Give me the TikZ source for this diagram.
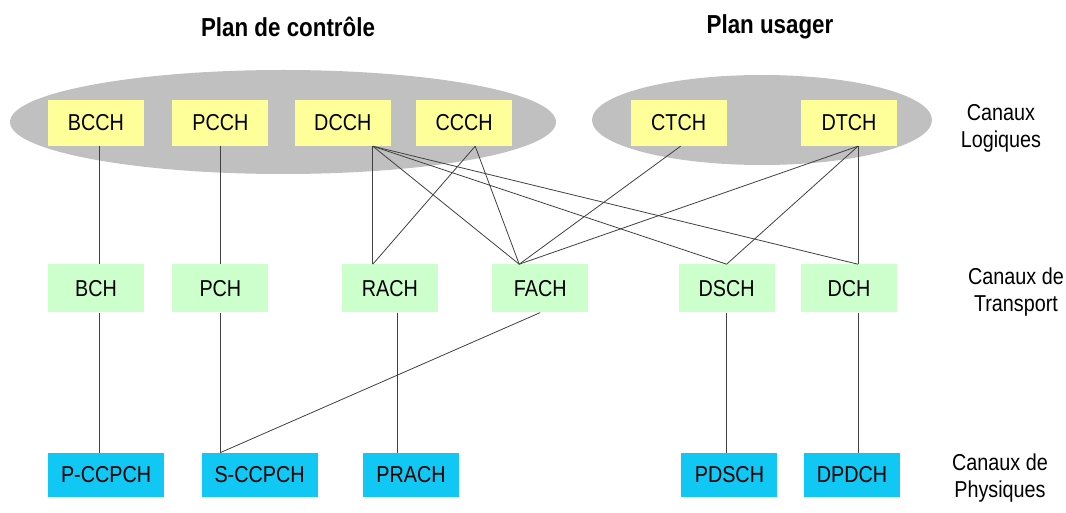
\documentclass[tikz,border=0pt]{standalone}
\usepackage{fontspec}
\setmainfont{Liberation Sans}[FakeStretch=0.86]
\usepackage{xcolor}
\usetikzlibrary{positioning}
\definecolor{logyellow}{HTML}{FFFF99}
\definecolor{trgreen}{HTML}{CCFFCC}
\definecolor{phyblue}{HTML}{11C8F4}
\definecolor{plangray}{HTML}{C0C0C0}
\definecolor{linkgray}{HTML}{404040}
\tikzstyle{logique} = [rectangle, fill=logyellow, minimum width=96pt, minimum height=46pt, font=\fontsize{23}{27}\selectfont]
\tikzstyle{transport} = [rectangle, fill=trgreen, minimum width=96pt, minimum height=48pt, font=\fontsize{23}{27}\selectfont]
\tikzstyle{physique} = [rectangle, fill=phyblue, inner xsep=13pt, minimum width=96pt, minimum height=44pt, font=\fontsize{23}{27}\selectfont]
\tikzstyle{canal} = [align=center, font=\fontsize{23}{27}\selectfont]
\tikzstyle{plan} = [font=\fontsize{26}{30}\selectfont\bfseries]
\tikzstyle{link} = [draw=linkgray, line width=0.8pt]

\begin{document}
\begin{tikzpicture}[x=1pt, y=-1pt]

\useasboundingbox (0,0) rectangle (1066,513);

% the two planes
\fill[plangray] (283,122) ellipse [x radius=273pt, y radius=52pt];
\fill[plangray] (762,120) ellipse [x radius=170pt, y radius=45pt];

\node[plan] (ctrl) at (288,27) {Plan de contrôle};
\node[plan] (usager) at (770,27) {Plan usager};

% logical channels
\node[logique] (BCCH) at (96,123) {BCCH};
\node[logique, right=28pt of BCCH] (PCCH) {PCCH};
\node[logique, right=26pt of PCCH] (DCCH) {DCCH};
\node[logique, right=25pt of DCCH] (CCCH) {CCCH};
\node[logique, right=118pt of CCCH] (CTCH) {CTCH};
\node[logique, right=74pt of CTCH] (DTCH) {DTCH};

% transport channels
\node[transport, below=118pt of BCCH] (BCH) {BCH};
\node[transport, right=28pt of BCH] (PCH) {PCH};
\node[transport, right=73pt of PCH] (RACH) {RACH};
\node[transport, right=54pt of RACH] (FACH) {FACH};
\node[transport, right=90pt of FACH] (DSCH) {DSCH};
\node[transport, right=26pt of DSCH] (DCH) {DCH};

% physical channels
\node[physique, anchor=north west] (PCCPCH) at ([yshift=-140pt]BCH.south west) {P-CCPCH};
\node[physique, right=37pt of PCCPCH] (SCCPCH) {S-CCPCH};
\node[physique, right=45pt of SCCPCH] (PRACH) {PRACH};
\node[physique, right=222pt of PRACH] (PDSCH) {PDSCH};
\node[physique, right=26pt of PDSCH] (DPDCH) {DPDCH};

\node[canal] (logiques) at (1001,128) {Canaux\\Logiques};
\node[canal] (transp) at (1016,292) {Canaux de\\Transport};
\node[canal] (physiq) at (1000,478) {Canaux de\\Physiques};

\coordinate (bcch) at ([xshift=3pt]BCCH.south);
\coordinate (dcch) at ([xshift=30pt]DCCH.south);
\coordinate (ccch) at ([xshift=11pt]CCCH.south);
\coordinate (dtch) at ([xshift=9pt]DTCH.south);
\coordinate (rach) at (dcch |- RACH.north);
\coordinate (fach) at ([xshift=-21pt]FACH.north);
\coordinate (dch) at (dtch |- DCH.north);
\coordinate (bch) at (bcch |- BCH.south);
\coordinate (pch) at (PCH.south);
\coordinate (rachb) at ([xshift=8pt]RACH.south);
\coordinate (sccpch) at (pch |- SCCPCH.north);

% logical -> transport
\draw[link] (bcch) -- (bcch |- BCH.north);
\draw[link] (PCCH.south) -- (PCCH.south |- PCH.north);
\draw[link] (dcch) -- (rach);
\draw[link] (dcch) -- (fach);
\draw[link] (dcch) -- (DSCH.north);
\draw[link] (dcch) -- (dch);
\draw[link] (ccch) -- (rach);
\draw[link] (ccch) -- (fach);
\draw[link] ([xshift=2pt]CTCH.south) -- (fach);
\draw[link] (dtch) -- (fach);
\draw[link] (dtch) -- (DSCH.north);
\draw[link] (dtch) -- (dch);

% transport -> physical
\draw[link] (bch) -- (bch |- PCCPCH.north);
\draw[link] (pch) -- (sccpch);
\draw[link] (FACH.south) -- (sccpch);
\draw[link] (rachb) -- (rachb |- PRACH.north);
\draw[link] (DSCH.south) -- (DSCH.south |- PDSCH.north);
\draw[link] (dch |- DCH.south) -- (dch |- DPDCH.north);

\end{tikzpicture}
\end{document}
